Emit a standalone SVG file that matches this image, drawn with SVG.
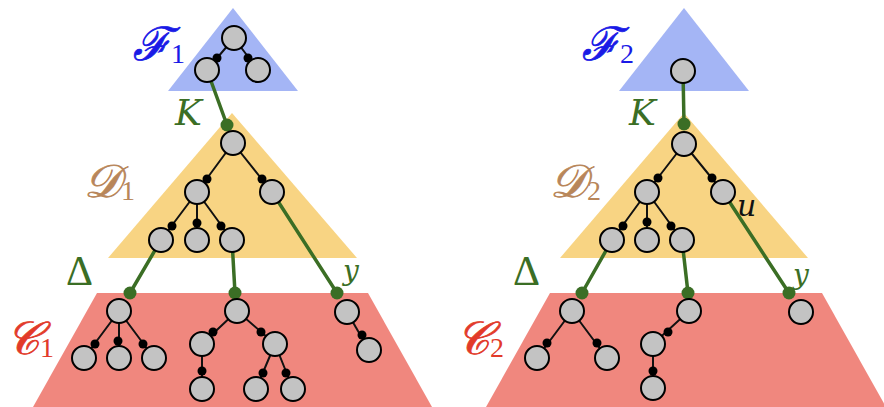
<svg xmlns="http://www.w3.org/2000/svg" width="884" height="407" viewBox="0 0 884 407">
<style>
.n{fill:#c3c3c3;stroke:#000;stroke-width:2}
.e{stroke:#111;stroke-width:2;fill:none}
.d{fill:#000}
.g{stroke:#3b6e25;stroke-width:3.5;fill:none}
.gd{fill:#3b6e25}
.lab{font-family:"DejaVu Serif","Liberation Serif",serif;font-style:italic}
.scr{font-family:"DejaVu Serif","Liberation Serif",serif;font-style:italic;stroke-width:0.8}
.sub{font-family:"Liberation Serif",serif;font-style:normal;font-weight:normal;stroke:none}
</style>
<g id="regions">
<polygon points="168,91 233,8 298,91" fill="#a4b5f5"/>
<polygon points="619,91 684,8 749,91" fill="#a4b5f5"/>
<polygon points="108,258 232,113 357,258" fill="#f8d483"/>
<polygon points="560,258 684,113 808,258" fill="#f8d483"/>
<polygon points="97,293 368,293 432,407 33,407" fill="#f0877e"/>
<polygon points="550,293 822,293 886,407 486,407" fill="#f0877e"/>
</g>
<g id="labels">
<text class="scr" x="133" y="60" font-size="46" fill="#1a1ae6" stroke="#1a1ae6">ℱ<tspan class="sub" font-size="28" dy="3">1</tspan></text>
<text class="scr" x="582" y="60" font-size="46" fill="#1a1ae6" stroke="#1a1ae6">ℱ<tspan class="sub" font-size="28" dy="3">2</tspan></text>
<text class="scr" x="84" y="197" font-size="46" fill="#b8865a" stroke="#b8865a">𝒟<tspan class="sub" font-size="28" dy="3">1</tspan></text>
<text class="scr" x="550" y="197" font-size="46" fill="#b8865a" stroke="#b8865a">𝒟<tspan class="sub" font-size="28" dy="3">2</tspan></text>
<text class="scr" x="6" y="354" font-size="46" fill="#e23a2a" stroke="#e23a2a">𝒞<tspan class="sub" font-size="28" dy="3">1</tspan></text>
<text class="scr" x="456" y="354" font-size="46" fill="#e23a2a" stroke="#e23a2a">𝒞<tspan class="sub" font-size="28" dy="3">2</tspan></text>
<text class="lab" x="175" y="125" font-size="36" fill="#3b6e25">K</text>
<text class="lab" x="629" y="125" font-size="36" fill="#3b6e25">K</text>
<text class="sub" x="66" y="285" font-size="42" fill="#3b6e25">Δ</text>
<text class="sub" x="513" y="285" font-size="42" fill="#3b6e25">Δ</text>
<text class="lab" x="343" y="280" font-size="28" fill="#3b6e25">y</text>
<text class="lab" x="793" y="284" font-size="28" fill="#3b6e25">y</text>
<text class="lab" x="737" y="216" font-size="30" fill="#111">u</text>
</g>
<g id="connectors">
<path class="e" d="M234,38L207,70M234,38L258,70"/>
<path class="e" d="M233,143L197,192M233,143L272,192M197,192L161,240M197,192L197,240M197,192L232,240"/>
<path class="e" d="M119,311L84,358M119,311L119,358M119,311L154,358"/>
<path class="e" d="M237,311L202,344M237,311L275,344M202,344L202,389M275,344L256,389M275,344L293,389"/>
<path class="e" d="M347,312L369,350"/>
<path class="e" d="M684,144L647,192M684,144L723,192M647,192L612,240M647,192L647,240M647,192L682,240"/>
<path class="e" d="M572,311L537,358M572,311L607,358"/>
<path class="e" d="M689,311L653,344M653,344L653,388"/>
<path class="g" d="M207,70L227,125M161,240L130,293M232,240L235,293M272,192L337,293"/>
<path class="g" d="M683,71L684,124M612,240L582,293M682,240L688,293M723,192L789,293"/>
<g class="d">
<circle cx="217" cy="58" r="4.5"/><circle cx="248" cy="58" r="4.5"/>
<circle cx="207" cy="179" r="4.5"/><circle cx="262" cy="179" r="4.5"/>
<circle cx="172" cy="226" r="4.5"/><circle cx="197" cy="223" r="4.5"/><circle cx="221" cy="226" r="4.5"/>
<circle cx="95" cy="344" r="4.5"/><circle cx="118" cy="341" r="4.5"/><circle cx="143" cy="344" r="4.5"/>
<circle cx="213" cy="332" r="4.5"/><circle cx="261" cy="332" r="4.5"/><circle cx="202" cy="371" r="4.5"/>
<circle cx="263" cy="373" r="4.5"/><circle cx="286" cy="373" r="4.5"/><circle cx="362" cy="335" r="4.5"/>
<circle cx="658" cy="178" r="4.5"/><circle cx="712" cy="178" r="4.5"/>
<circle cx="623" cy="226" r="4.5"/><circle cx="647" cy="222" r="4.5"/><circle cx="671" cy="226" r="4.5"/>
<circle cx="547" cy="343" r="4.5"/><circle cx="597" cy="343" r="4.5"/>
<circle cx="668" cy="332" r="4.5"/><circle cx="653" cy="371" r="4.5"/>
</g>
<g class="gd">
<circle cx="227" cy="125" r="6.5"/><circle cx="130" cy="293" r="6.5"/><circle cx="235" cy="293" r="6.5"/><circle cx="337" cy="293" r="6.5"/>
<circle cx="684" cy="124" r="6.5"/><circle cx="582" cy="293" r="6.5"/><circle cx="688" cy="293" r="6.5"/><circle cx="789" cy="293" r="6.5"/>
</g>
</g>
<g id="nodes-F1"><circle class="n" cx="234" cy="38" r="12"/><circle class="n" cx="207" cy="70" r="12"/><circle class="n" cx="258" cy="70" r="12"/></g>
<g id="nodes-D1"><circle class="n" cx="233" cy="143" r="12"/><circle class="n" cx="197" cy="192" r="12"/><circle class="n" cx="272" cy="192" r="12"/><circle class="n" cx="161" cy="240" r="12"/><circle class="n" cx="197" cy="240" r="12"/><circle class="n" cx="232" cy="240" r="12"/></g>
<g id="nodes-C1"><circle class="n" cx="119" cy="311" r="12"/><circle class="n" cx="84" cy="358" r="12"/><circle class="n" cx="119" cy="358" r="12"/><circle class="n" cx="154" cy="358" r="12"/><circle class="n" cx="237" cy="311" r="12"/><circle class="n" cx="202" cy="344" r="12"/><circle class="n" cx="275" cy="344" r="12"/><circle class="n" cx="202" cy="389" r="12"/><circle class="n" cx="256" cy="389" r="12"/><circle class="n" cx="293" cy="389" r="12"/><circle class="n" cx="347" cy="312" r="12"/><circle class="n" cx="369" cy="350" r="12"/></g>
<g id="nodes-F2"><circle class="n" cx="683" cy="71" r="12"/></g>
<g id="nodes-D2"><circle class="n" cx="684" cy="144" r="12"/><circle class="n" cx="647" cy="192" r="12"/><circle class="n" cx="723" cy="192" r="12"/><circle class="n" cx="612" cy="240" r="12"/><circle class="n" cx="647" cy="240" r="12"/><circle class="n" cx="682" cy="240" r="12"/></g>
<g id="nodes-C2"><circle class="n" cx="572" cy="311" r="12"/><circle class="n" cx="537" cy="358" r="12"/><circle class="n" cx="607" cy="358" r="12"/><circle class="n" cx="689" cy="311" r="12"/><circle class="n" cx="653" cy="344" r="12"/><circle class="n" cx="653" cy="388" r="12"/><circle class="n" cx="801" cy="312" r="12"/></g>
</svg>
